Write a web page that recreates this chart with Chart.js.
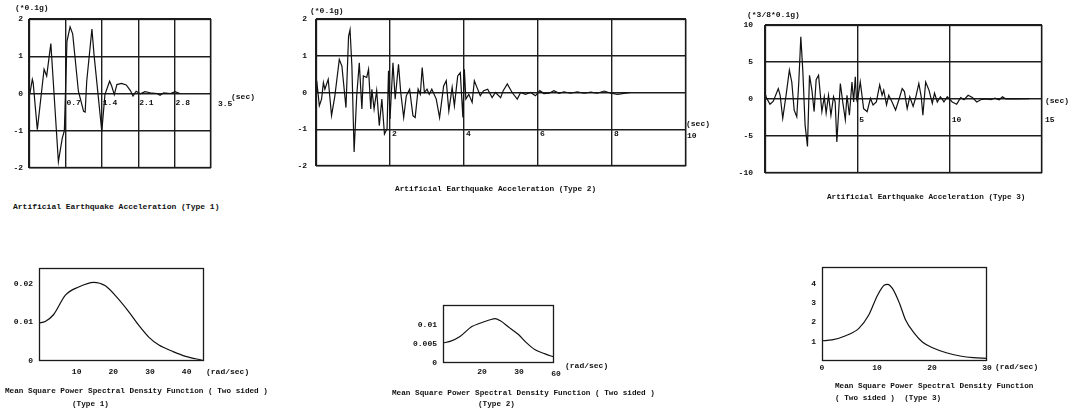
<!DOCTYPE html>
<html lang="en">
<head>
<meta charset="UTF-8">
<title>Artificial Earthquake Acceleration / PSD</title>
<style>
    body, html {
        margin: 0;
        width: 1077px;
        height: 410px;
        overflow: hidden;
        background: #fff;
        position: relative;
        font-family: "Liberation Mono", "DejaVu Sans Mono", monospace;
        color: #111;
    }
    .txt {
        position: absolute;
        white-space: pre;
        line-height: 1;
    }
    canvas { position: absolute; }
</style>
</head>
<body>
<script src="https://cdn.jsdelivr.net/npm/chart.js"></script>
<script>
// --- Type 1 acceleration (sec, *0.1g)
const t1 = [0, 0.02, 0.064, 0.08, 0.16, 0.29, 0.34, 0.42, 0.565, 0.64, 0.68, 0.73, 0.79, 0.84, 0.95, 1.05, 1.08, 1.11, 1.21, 1.25, 1.40, 1.46, 1.55, 1.59, 1.64, 1.69, 1.78, 1.87, 1.95, 2.0, 2.06, 2.14, 2.23, 2.33, 2.46, 2.52, 2.59, 2.72, 2.81, 2.9];
const a1 = [0, 0.02, 0.38, 0.29, -0.97, 0.65, 0.47, 1.34, -1.83, -1.2, -1.0, 1.4, 1.79, 1.6, 0.06, -0.48, -0.5, 0.33, 1.73, 1.05, -1.02, -0.03, 0.33, 0.2, -0.03, 0.24, 0.27, 0.23, 0.08, -0.07, 0.06, -0.01, 0.05, 0.02, 0, -0.05, 0.02, 0, 0.05, 0];
const xGrid1 = [0, 0.7, 1.4, 2.1, 2.8, 3.5];
const xLab1 = ['0.7', '1.4', '2.1', '2.8', '3.5'];

// --- Type 2 acceleration
const t2 = [0, 0.02, 0.09, 0.15, 0.2, 0.24, 0.33, 0.42, 0.51, 0.63, 0.7, 0.81, 0.88, 0.92, 0.97, 1.03, 1.10, 1.17, 1.24, 1.28, 1.37, 1.42, 1.48, 1.51, 1.57, 1.64, 1.71, 1.78, 1.85, 1.92, 1.96, 2.0, 2.08, 2.14, 2.23, 2.29, 2.37, 2.44, 2.53, 2.62, 2.68, 2.76, 2.82, 2.87, 2.93, 3.0, 3.06, 3.13, 3.25, 3.34, 3.45, 3.52, 3.59, 3.68, 3.74, 3.83, 3.9, 3.97, 4.01, 4.05, 4.13, 4.22, 4.28, 4.35, 4.44, 4.53, 4.64, 4.76, 4.85, 4.99, 5.06, 5.17, 5.30, 5.44, 5.53, 5.66, 5.8, 5.93, 6.05, 6.16, 6.30, 6.43, 6.57, 6.7, 6.88, 7.06, 7.24, 7.43, 7.6, 7.79, 7.97, 8.15, 8.5];
const a2 = [0, 0.32, -0.36, -0.18, 0.27, 0.09, 0.36, -0.63, -0.09, 0.9, 0.72, -0.41, 1.53, 1.71, 0.72, -1.62, -0.09, 0.81, -0.45, 0.45, 0.41, 0.63, -0.45, 0.09, -0.45, 0.05, -0.9, -0.18, -1.13, -0.99, 0.59, -0.72, 0.81, -0.18, 0.77, 0, -0.68, -0.09, 0.09, -0.63, -0.68, 0.09, -0.05, 0.68, 0, 0.09, -0.05, 0.09, -0.18, -0.68, 0.18, 0.32, -0.5, 0.14, -0.36, 0.45, 0.54, -0.68, 0.63, -0.18, -0.05, -0.27, 0.32, 0.14, -0.09, 0.05, 0.09, -0.14, 0, -0.14, 0.05, 0.23, 0, -0.18, 0, -0.05, 0, -0.09, 0.05, -0.03, -0.02, 0.05, -0.02, 0.02, -0.02, 0.02, -0.02, 0.01, -0.02, 0.04, -0.02, -0.05, 0];
const xGrid2 = [0, 2, 4, 6, 8, 10];
const xLab2 = ['2', '4', '6', '8', '10'];

// --- Type 3 acceleration (*3/8*0.1g)
const t3 = [0, 0.05, 0.27, 0.45, 0.72, 0.82, 0.96, 1.14, 1.32, 1.45, 1.58, 1.72, 1.83, 1.94, 2.05, 2.17, 2.3, 2.41, 2.54, 2.66, 2.77, 2.9, 3.08, 3.21, 3.31, 3.44, 3.57, 3.71, 3.8, 3.89, 4.08, 4.22, 4.35, 4.44, 4.57, 4.71, 4.8, 4.89, 4.95, 5.0, 5.16, 5.34, 5.53, 5.71, 5.85, 6.03, 6.21, 6.34, 6.43, 6.58, 6.7, 6.88, 7.07, 7.25, 7.43, 7.55, 7.7, 7.84, 8.02, 8.15, 8.33, 8.46, 8.55, 8.7, 8.88, 9.06, 9.18, 9.33, 9.5, 9.69, 9.87, 10.14, 10.38, 10.6, 10.78, 11.0, 11.23, 11.47, 11.68, 11.96, 12.23, 12.45, 12.68, 12.86, 13.04, 13.32, 13.68, 14.31];
const a3 = [0.5, 0.3, -0.7, -0.3, 1.4, 0.5, -2.6, 0.5, 3.9, 2.3, -1.5, -2.4, 2.3, 8.4, 3.7, -3.5, -6.4, 3.2, 1.2, -1.7, 2.6, 3.2, -1.7, 0.3, -1.9, 0.5, -2.2, 0.3, -0.4, -5.8, 2.1, -0.6, -2.8, 0.5, -2.2, 2.3, -0.4, 3.0, 0.1, -0.4, 2.3, -1.3, -1.7, 0.1, -0.8, -0.4, 1.9, 0.5, 1.2, -0.8, 0.5, -0.4, -1.5, -0.1, 1.4, 1.0, -1.3, 0.3, -1.0, 0.1, 2.1, 0.3, -2.2, 2.3, 1.2, -0.6, 0.8, -0.4, 0.3, -0.4, 0.3, -0.4, -0.7, 0.2, -0.1, 0.5, 0.2, -0.4, -0.1, 0, -0.1, 0.1, -0.1, 0.3, 0, 0.05, 0, 0.05];
const xGrid3 = [0, 5, 10, 15];
const xLab3 = ['5', '10', '15'];

// --- power spectral density curves (rad/sec)
const w4 = [0, 1.7, 4, 7.2, 10.8, 14.9, 18.1, 20.9, 24.5, 27.3, 30, 32.7, 36.4, 40, 44.6];
const s4 = [0.0098, 0.0102, 0.012, 0.017, 0.0191, 0.0203, 0.0194, 0.0168, 0.0127, 0.0091, 0.0061, 0.0041, 0.0025, 0.0012, 0.0002];
const w5 = [10, 11.9, 14.6, 17.8, 20, 22.7, 24.1, 25.4, 28.1, 30.4, 32.6, 34.9, 37.6, 40];
const s5 = [0.0053, 0.0057, 0.007, 0.0096, 0.0105, 0.0114, 0.0117, 0.0112, 0.0092, 0.0075, 0.0053, 0.0035, 0.0024, 0.0016];
const w6 = [0, 1.8, 4.3, 6.7, 8.5, 10.1, 11.3, 11.9, 12.8, 14.1, 15.2, 16.8, 18.3, 20.1, 22.6, 25.1, 27.5, 30];
const s6 = [1.05, 1.09, 1.31, 1.69, 2.38, 3.41, 3.93, 3.97, 3.76, 2.98, 2.12, 1.43, 0.97, 0.69, 0.43, 0.26, 0.17, 0.14];

// tick label text
const yAcc = [2, 1, 0, -1, -2];
const yAcc3 = [10, 5, 0, -5, -10];
const yPsd4 = [0.02, 0.01, 0], yLab4 = ['0.02', '0.01', '0'];
const yPsd5 = [0.01, 0.005, 0], yLab5 = ['0.01', '0.005', '0'];
const yPsd6 = [4, 3, 2, 1];
const xPsd4 = [10, 20, 30, 40];
const xPsd5 = [20, 30, 40], xLab5 = ['20', '30', '60'];
const xPsd6 = [0, 10, 20, 30];

// draws tick labels at positions given by the chart's scales
const tickText = {
    id: 'tickText',
    afterDraw(chart, args, o) {
        const {ctx, chartArea: a, scales: {x, y}} = chart;
        ctx.save();
        ctx.fillStyle = '#111';
        ctx.font = 'bold 8px "Liberation Mono", monospace';
        ctx.textBaseline = 'middle';
        ctx.textAlign = 'right';
        o.yVals.forEach((v, i) => ctx.fillText(o.yLabels[i], a.left - o.yGap, y.getPixelForValue(v)));
        ctx.textAlign = o.xAlign;
        const base = o.xAt == null ? a.bottom : y.getPixelForValue(o.xAt);
        o.xVals.forEach((v, i) => {
            const last = i === o.xVals.length - 1;
            ctx.fillText(o.xLabels[i], x.getPixelForValue(v) + (last ? o.lastDx : o.dx), base + (last ? o.lastDy : o.dy));
        });
        ctx.restore();
    }
};

const frame = {
    id: 'frame',
    afterDatasetsDraw(chart) {
        const {ctx, chartArea: a} = chart;
        ctx.save();
        ctx.strokeStyle = '#1a1a1a';
        ctx.lineWidth = 1.3;
        ctx.strokeRect(a.left + 0.5, a.top + 0.5, a.width - 1, a.height - 1);
        ctx.restore();
    }
};

function makeChart(box, xs, ys, opt) {
    const L = Math.max(0, box[0] - 40), T = Math.max(0, box[1] - 30);
    const R = Math.min(1077, box[2] + 60), B = Math.min(410, box[3] + 30);
    const cv = document.createElement('canvas');
    cv.width = R - L; cv.height = B - T;
    cv.style.left = L + 'px'; cv.style.top = T + 'px';
    document.body.appendChild(cv);
    const grid = {display: !!opt.grid, color: '#1e1e1e', lineWidth: 1.4, drawTicks: false};
    new Chart(cv, {
        type: 'line',
        data: {
            datasets: [{
                data: xs.map((v, i) => ({x: v, y: ys[i]})),
                borderColor: '#111',
                borderWidth: 1.2,
                pointRadius: 0,
                tension: opt.smooth ? 0.4 : 0,
                cubicInterpolationMode: opt.smooth ? 'monotone' : 'default'
            }]
        },
        options: {
            responsive: false,
            animation: false,
            devicePixelRatio: 1,
            layout: {padding: {left: box[0] - L, top: box[1] - T, right: R - box[2], bottom: B - box[3]}},
            plugins: {legend: {display: false}, tooltip: {enabled: false}, tickText: opt.ticks},
            scales: {
                x: {
                    type: 'linear', min: opt.xr[0], max: opt.xr[1],
                    ticks: {display: false}, grid: grid, border: {display: false},
                    afterBuildTicks: s => { if (opt.grid) s.ticks = opt.grid[0].map(v => ({value: v})); }
                },
                y: {
                    type: 'linear', min: opt.yr[0], max: opt.yr[1],
                    ticks: {display: false}, grid: grid, border: {display: false},
                    afterBuildTicks: s => { if (opt.grid) s.ticks = opt.grid[1].map(v => ({value: v})); }
                }
            }
        },
        plugins: [tickText, frame]
    });
}

// top row: accelerations
makeChart([29, 19, 211, 168], t1, a1, {
    xr: [0, 3.5], yr: [-2, 2], grid: [xGrid1, yAcc],
    ticks: {yVals: yAcc, yLabels: yAcc.map(String), yGap: 6, xVals: xGrid1.slice(1), xLabels: xLab1,
        xAlign: 'left', xAt: 0, dx: 1, dy: 9, lastDx: 7, lastDy: 10}
});
makeChart([316, 19, 686, 166], t2, a2, {
    xr: [0, 10], yr: [-2, 2], grid: [xGrid2, yAcc],
    ticks: {yVals: yAcc, yLabels: yAcc.map(String), yGap: 9, xVals: xGrid2.slice(1), xLabels: xLab2,
        xAlign: 'left', xAt: -1, dx: 2, dy: 5, lastDx: 1, lastDy: 7}
});
makeChart([765, 25, 1042, 173], t3, a3, {
    xr: [0, 15], yr: [-10, 10], grid: [xGrid3, yAcc3],
    ticks: {yVals: yAcc3, yLabels: yAcc3.map(String), yGap: 12, xVals: xGrid3.slice(1), xLabels: xLab3,
        xAlign: 'left', xAt: 0, dx: 2, dy: 21, lastDx: 3, lastDy: 21}
});

// bottom row: spectral densities
makeChart([39, 268, 204, 361], w4, s4, {
    xr: [0, 45], yr: [0, 0.024], smooth: true,
    ticks: {yVals: yPsd4, yLabels: yLab4, yGap: 6, xVals: xPsd4, xLabels: xPsd4.map(String),
        xAlign: 'center', xAt: null, dx: 1, dy: 11, lastDx: 1, lastDy: 11}
});
makeChart([443, 305, 554, 363], w5, s5, {
    xr: [10, 40], yr: [0, 0.0153], smooth: true,
    ticks: {yVals: yPsd5, yLabels: yLab5, yGap: 6, xVals: xPsd5, xLabels: xLab5,
        xAlign: 'center', xAt: null, dx: 2, dy: 9, lastDx: 2, lastDy: 11}
});
makeChart([822, 267, 987, 361], w6, s6, {
    xr: [0, 30], yr: [0, 4.87], smooth: true,
    ticks: {yVals: yPsd6, yLabels: yPsd6.map(String), yGap: 6, xVals: xPsd6, xLabels: xPsd6.map(String),
        xAlign: 'center', xAt: null, dx: 0, dy: 7, lastDx: 0, lastDy: 7}
});

// units and captions
function label(text, x, yc, size, bold) {
    const d = document.createElement('div');
    d.className = 'txt';
    d.textContent = text;
    d.style.left = x + 'px';
    d.style.top = (yc - size / 2) + 'px';
    d.style.fontSize = size + 'px';
    if (bold) d.style.fontWeight = 'bold';
    document.body.appendChild(d);
}
label('(*0.1g)', 15, 8, 8, true);
label('(sec)', 231, 97, 8, true);
label('(*0.1g)', 310, 11, 8, true);
label('(sec)', 686, 124, 8, true);
label('(*3/8*0.1g)', 747, 15, 8, true);
label('(sec)', 1045, 101, 8, true);
label('(rad/sec)', 206, 372, 8, true);
label('(rad/sec)', 565, 366, 8, true);
label('(rad/sec)', 995, 367, 8, true);

label('Artificial Earthquake Acceleration (Type 1)', 13, 207, 8, true);
label('Artificial Earthquake Acceleration (Type 2)', 395, 190, 7.8, true);
label('Artificial Earthquake Acceleration (Type 3)', 827, 198, 7.7, true);
label('Mean Square Power Spectral Density Function ( Two sided )', 5, 392, 7.7, true);
label('(Type 1)', 72, 405, 7.7, true);
label('Mean Square Power Spectral Density Function ( Two sided )', 392, 394, 7.7, true);
label('(Type 2)', 478, 405, 7.7, true);
label('Mean Square Power Spectral Density Function', 835, 387, 7.7, true);
label('( Two sided )  (Type 3)', 835, 399, 7.7, true);
</script>
</body>
</html>
